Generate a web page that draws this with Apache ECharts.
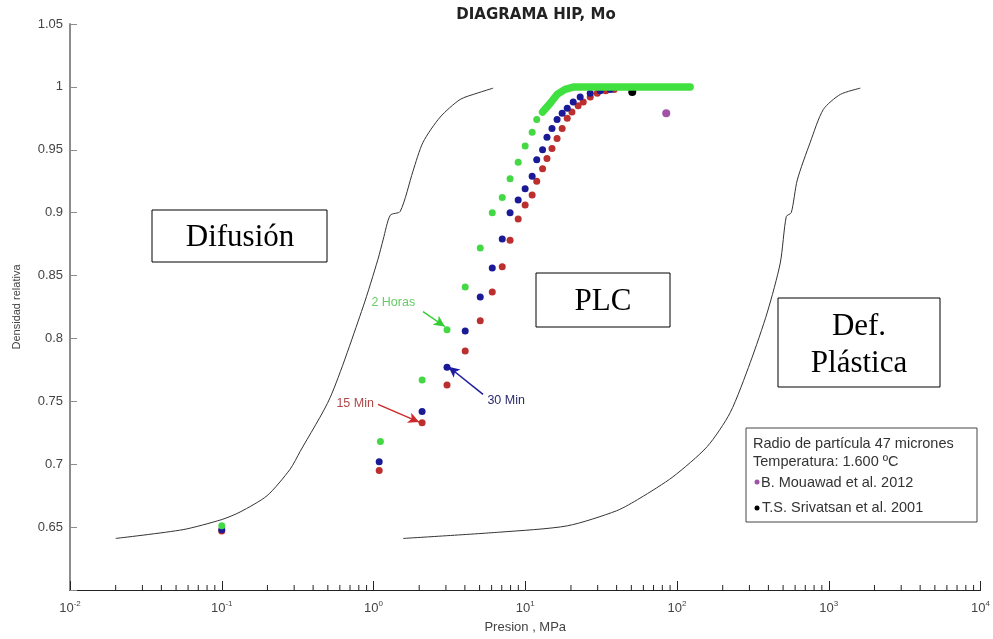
<!DOCTYPE html>
<html>
<head>
<meta charset="utf-8">
<title>DIAGRAMA HIP, Mo</title>
<script src="https://cdn.jsdelivr.net/npm/echarts@6/dist/echarts.min.js"></script>
<style>
	html, body { margin: 0; padding: 0; background: #fff; }
	#chart { width: 993px; height: 639px; }
</style>
</head>
<body>
<div id="chart"></div>
<script>
// curva de difusion (izquierda)
var difPresion = [0.02, 0.0556, 0.1, 0.132, 0.199, 0.282, 0.328, 0.518, 0.853, 1.07, 1.16, 1.29, 1.50, 1.82, 2.12, 2.75, 3.72, 4.82, 6.14];
var difDensidad = [0.641, 0.648, 0.656, 0.662, 0.675, 0.696, 0.710, 0.753, 0.825, 0.863, 0.879, 0.898, 0.901, 0.933, 0.956, 0.976, 0.990, 0.995, 0.999];
// curva de deformacion plastica (derecha)
var plaPresion = [1.57, 6.8, 18.9, 40, 57, 94, 158, 224, 304, 394, 479, 525, 566, 620, 755, 920, 1191, 1614];
var plaDensidad = [0.641, 0.646, 0.651, 0.663, 0.673, 0.690, 0.714, 0.741, 0.781, 0.821, 0.860, 0.897, 0.900, 0.926, 0.956, 0.982, 0.994, 0.999];

// 15 Min
var rojoPresion = [0.1, 1.09, 2.09, 3.05, 4.02, 5.05, 6.06, 7.05, 7.94, 8.98, 9.98, 11.1, 11.9, 13.0, 13.9, 15.0, 16.2, 17.5, 18.9, 20.3, 22.3, 24.1, 26.8, 29.8, 33.9, 38.5];
var rojoDensidad = [0.647, 0.695, 0.733, 0.763, 0.790, 0.814, 0.837, 0.857, 0.878, 0.895, 0.906, 0.914, 0.925, 0.935, 0.943, 0.951, 0.959, 0.967, 0.975, 0.980, 0.985, 0.988, 0.992, 0.995, 0.997, 0.998];
// 30 Min
var azulPresion = [0.1, 1.09, 2.09, 3.05, 4.02, 5.05, 6.06, 7.05, 7.94, 8.98, 9.98, 11.1, 11.9, 13.0, 13.9, 15.0, 16.2, 17.5, 18.9, 20.7, 23.0, 26.8, 31.2, 36.3];
var azulDensidad = [0.648, 0.702, 0.742, 0.777, 0.806, 0.833, 0.856, 0.879, 0.900, 0.910, 0.919, 0.929, 0.942, 0.950, 0.960, 0.967, 0.974, 0.979, 0.983, 0.988, 0.992, 0.995, 0.997, 0.998];
// 2 Horas
var verdePresion = [0.1, 1.11, 2.09, 3.05, 4.02, 5.05, 6.06, 7.05, 7.94, 8.98, 9.98, 11.1, 11.9];
var verdeDensidad = [0.651, 0.718, 0.767, 0.807, 0.841, 0.872, 0.900, 0.912, 0.927, 0.940, 0.953, 0.964, 0.974];
// 2 Horas, tramo denso (los puntos se juntan en una linea)
var verdeDensoPresion = [13.0, 14.6, 16.2, 18.3, 21, 122];
var verdeDensoDensidad = [0.980, 0.987, 0.994, 0.998, 1.0, 1.0];

// referencias
var mouawad = [84.9, 0.979];
var srivatsan = [50.7, 0.996];

var decadas = [0.01, 0.1, 1, 10, 100, 1000];
var mantisas = [2, 3, 4, 5, 6, 7, 8, 9];

function pares(xs, ys) {
	var out = [];
	for (var i = 0; i < xs.length; i++) out.push([xs[i], ys[i]]);
	return out;
}

var minorTicks = [];
decadas.forEach(function(d) {
	mantisas.forEach(function(m) { minorTicks.push([d * m]); });
});

var FONT = 'Liberation Sans';
var myChart = echarts.init(document.getElementById('chart'), null, { renderer: 'canvas' });

function etiqueta(nombre, coord, color) {
	return {
		silent: true,
		symbol: 'rect', symbolSize: 1,
		itemStyle: { color: 'rgba(0,0,0,0)' },
		label: { show: true, position: 'inside', formatter: '{b}', color: color, fontSize: 12.5, fontFamily: FONT },
		data: [{ name: nombre, coord: coord }]
	};
}
function flecha(desde, hasta, color) {
	return {
		silent: true,
		symbol: ['none', 'arrow'], symbolSize: [8, 11],
		label: { show: false },
		lineStyle: { color: color, width: 1.5, type: 'solid' },
		emphasis: { disabled: true },
		data: [[{ coord: desde }, { coord: hasta }]]
	};
}

var option = {
	animation: false,
	title: {
		text: 'DIAGRAMA HIP, Mo',
		left: 531, top: 3, textAlign: 'center',
		textStyle: { fontFamily: 'DejaVu Sans', fontWeight: 'bold', fontSize: 15, color: '#222' }
	},
	grid: { left: 70, right: 11, top: 24, bottom: 49 },
	xAxis: {
		type: 'log', logBase: 10, min: 0.01, max: 10000, splitNumber: 6,
		name: 'Presion , MPa', nameLocation: 'middle', nameGap: 31,
		nameTextStyle: { fontFamily: FONT, fontSize: 13, color: '#444' },
		axisLine: { lineStyle: { color: '#222', width: 1 } },
		axisTick: { inside: true, length: 9, lineStyle: { color: '#222' } },
		splitLine: { show: false },
		axisLabel: {
			margin: 10,
			formatter: function(v) {
				return '{b|10}{s|' + Math.round(Math.log(v) / Math.LN10) + '}';
			},
			rich: {
				b: { fontFamily: FONT, fontSize: 13, color: '#444' },
				s: { fontFamily: FONT, fontSize: 8, color: '#444', padding: [0, 0, 9, 0] }
			}
		}
	},
	yAxis: {
		type: 'value', min: 0.6, max: 1.05, interval: 0.05,
		name: 'Densidad relativa', nameLocation: 'middle', nameGap: 48,
		nameTextStyle: { fontFamily: FONT, fontSize: 11, color: '#444' },
		axisLine: { show: true, lineStyle: { color: '#8c8c8c', width: 2 } },
		axisTick: { show: true, inside: true, length: 7, lineStyle: { color: '#8c8c8c' } },
		splitLine: { show: false },
		axisLabel: {
			margin: 7, fontFamily: FONT, fontSize: 13, color: '#444',
			formatter: function(v) { return v < 0.62 ? '' : String(+v.toFixed(2)); }
		}
	},
	series: [{
		name: 'ticks menores', type: 'custom', silent: true, z: 1,
		data: minorTicks,
		encode: { x: 0 },
		renderItem: function(params, api) {
			var p = api.coord([api.value(0), 0.6]);
			return { type: 'line', shape: { x1: p[0], y1: p[1], x2: p[0], y2: p[1] - 5 }, style: { stroke: '#222', lineWidth: 1 } };
		}
	}, {
		name: 'Difusion', type: 'line', silent: true, symbol: 'none', smooth: 0.25,
		data: pares(difPresion, difDensidad),
		lineStyle: { color: '#333', width: 1 }
	}, {
		name: 'Def. Plastica', type: 'line', silent: true, symbol: 'none', smooth: 0.25,
		data: pares(plaPresion, plaDensidad),
		lineStyle: { color: '#333', width: 1 }
	}, {
		name: '15 Min', type: 'scatter', silent: true, symbolSize: 7,
		data: pares(rojoPresion, rojoDensidad),
		itemStyle: { color: '#bb2f2f', opacity: 1 },
		markLine: flecha([1.07, 0.7476], [2.0, 0.7335], '#cc2a2a'),
		markPoint: etiqueta('15 Min', [0.757, 0.7484], '#b04848')
	}, {
		name: '30 Min', type: 'scatter', silent: true, symbolSize: 7,
		data: pares(azulPresion, azulDensidad),
		itemStyle: { color: '#1a1a96', opacity: 1 },
		markLine: flecha([5.27, 0.7556], [3.12, 0.7775], '#1c1ca0'),
		markPoint: etiqueta('30 Min', [7.48, 0.7508], '#2b2b6b')
	}, {
		name: '2 Horas', type: 'scatter', silent: true, symbolSize: 7,
		data: pares(verdePresion, verdeDensidad),
		itemStyle: { color: '#44d944', opacity: 1 },
		markLine: flecha([2.12, 0.8214], [2.95, 0.8095], '#33cc33'),
		markPoint: etiqueta('2 Horas', [1.35, 0.8286], '#66cc66')
	}, {
		name: '2 Horas denso', type: 'line', silent: true, symbol: 'none',
		data: pares(verdeDensoPresion, verdeDensoDensidad),
		lineStyle: { color: '#3fe03f', width: 7.5, cap: 'round', join: 'round' }
	}, {
		name: 'B. Mouawad et al. 2012', type: 'scatter', silent: true, symbolSize: 8,
		data: [mouawad], itemStyle: { color: '#a152a8', opacity: 1 }
	}, {
		name: 'T.S. Srivatsan et al. 2001', type: 'scatter', silent: true, symbolSize: 8,
		data: [srivatsan], itemStyle: { color: '#000', opacity: 1 }
	}],
	graphic: [
		{ type: 'rect', shape: { x: 152, y: 210, width: 175, height: 52 }, style: { fill: '#fff', stroke: '#000', lineWidth: 1 } },
		{ type: 'text', x: 240, y: 238, style: { text: 'Difusión', font: '31px "Liberation Serif"', fill: '#000', align: 'center', verticalAlign: 'middle' } },
		{ type: 'rect', shape: { x: 536, y: 273, width: 134, height: 54 }, style: { fill: '#fff', stroke: '#000', lineWidth: 1 } },
		{ type: 'text', x: 603, y: 302, style: { text: 'PLC', font: '31px "Liberation Serif"', fill: '#000', align: 'center', verticalAlign: 'middle' } },
		{ type: 'rect', shape: { x: 778, y: 298, width: 162, height: 89 }, style: { fill: '#fff', stroke: '#000', lineWidth: 1 } },
		{ type: 'text', x: 859, y: 327, style: { text: 'Def.', font: '31px "Liberation Serif"', fill: '#000', align: 'center', verticalAlign: 'middle' } },
		{ type: 'text', x: 859, y: 364, style: { text: 'Plástica', font: '31px "Liberation Serif"', fill: '#000', align: 'center', verticalAlign: 'middle' } },
		{ type: 'rect', shape: { x: 746, y: 428, width: 231, height: 94 }, style: { fill: '#fff', stroke: '#444', lineWidth: 1 } },
		{ type: 'text', x: 753, y: 444, style: { text: 'Radio de partícula 47 micrones', font: '14.5px "Liberation Sans"', fill: '#333', verticalAlign: 'middle' } },
		{ type: 'text', x: 753, y: 462, style: { text: 'Temperatura: 1.600 ºC', font: '14.5px "Liberation Sans"', fill: '#333', verticalAlign: 'middle' } },
		{ type: 'circle', shape: { cx: 757, cy: 482, r: 2.5 }, style: { fill: '#a152a8' } },
		{ type: 'text', x: 761, y: 483, style: { text: 'B. Mouawad et al. 2012', font: '14.5px "Liberation Sans"', fill: '#333', verticalAlign: 'middle' } },
		{ type: 'circle', shape: { cx: 757, cy: 508, r: 2.5 }, style: { fill: '#000' } },
		{ type: 'text', x: 762, y: 508, style: { text: 'T.S. Srivatsan et al. 2001', font: '14.5px "Liberation Sans"', fill: '#333', verticalAlign: 'middle' } }
	]
};

myChart.setOption(option);
</script>
</body>
</html>
